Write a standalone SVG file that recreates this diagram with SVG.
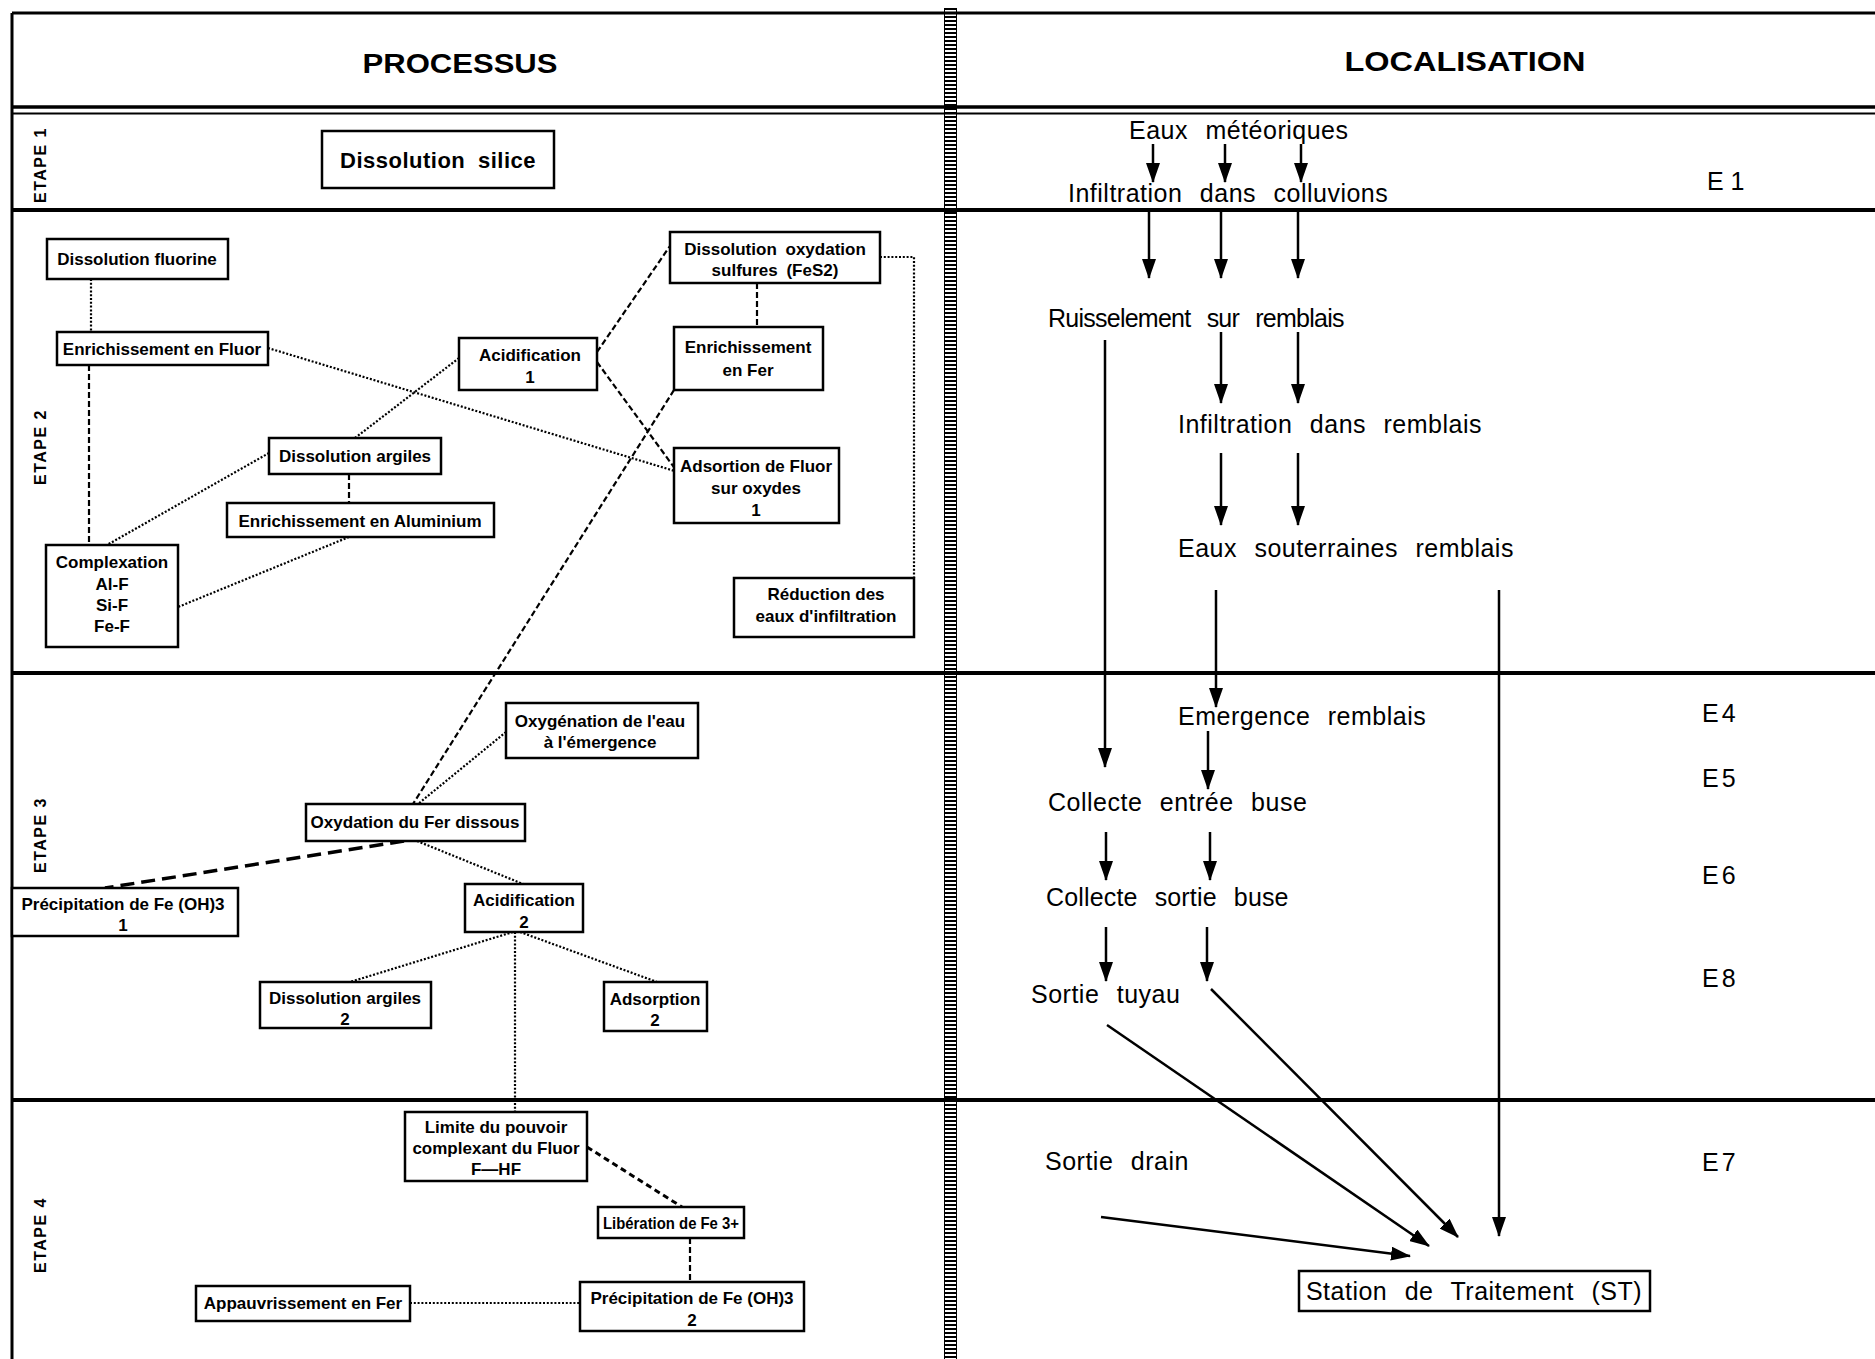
<svg xmlns="http://www.w3.org/2000/svg" width="1875" height="1359" viewBox="0 0 1875 1359">
<style>
.frame{stroke:#000;fill:none}
.box{fill:#fff;stroke:#000;stroke-width:2.5}
.bt{font-family:"Liberation Sans",Arial,sans-serif;font-weight:bold;font-size:17px;text-anchor:middle;fill:#000}
.hd{font-family:"Liberation Sans",Arial,sans-serif;font-weight:bold;font-size:27px;text-anchor:middle;fill:#000}
.et{font-family:"Liberation Sans",Arial,sans-serif;font-weight:bold;font-size:16px;letter-spacing:1.5px;text-anchor:middle;fill:#000}
.loc{font-family:"Liberation Sans",Arial,sans-serif;font-size:25px;letter-spacing:0.5px;word-spacing:10px;fill:#000}
.dot{stroke:#000;stroke-width:2.2;stroke-dasharray:2 1.8;fill:none}
.dsh{stroke:#000;stroke-width:2.2;stroke-dasharray:6 3;fill:none}
.hvy{stroke:#000;stroke-width:3.5;stroke-dasharray:14 7;fill:none}
.arr{stroke:#000;stroke-width:2.5;fill:none;marker-end:url(#ah)}
</style>
<defs>
<marker id="ah" markerUnits="userSpaceOnUse" markerWidth="20" markerHeight="14" refX="19" refY="7" orient="auto">
<path d="M0,0 L20,7 L0,14 z" fill="#000"/>
</marker>
</defs>
<rect width="1875" height="1359" fill="#fff"/>
<g id="frame">
<line class="frame" x1="12" y1="13" x2="1875" y2="13" stroke-width="3"/>
<line class="frame" x1="12" y1="13" x2="12" y2="1359" stroke-width="3"/>
<line class="frame" x1="12" y1="107" x2="1875" y2="107" stroke-width="3.5"/>
<line class="frame" x1="12" y1="113.5" x2="1875" y2="113.5" stroke-width="2"/>
<line class="frame" x1="12" y1="210" x2="1875" y2="210" stroke-width="4"/>
<line class="frame" x1="12" y1="673" x2="1875" y2="673" stroke-width="4"/>
<line class="frame" x1="12" y1="1100" x2="1875" y2="1100" stroke-width="4"/>
<line x1="950.5" y1="8" x2="950.5" y2="1359" stroke="#000" stroke-width="12" stroke-dasharray="2 2"/>
<line x1="944.5" y1="8" x2="944.5" y2="1359" stroke="#000" stroke-width="1"/>
<line x1="956.5" y1="8" x2="956.5" y2="1359" stroke="#000" stroke-width="1"/>
</g>
<g id="headers">
<text class="hd" x="460" y="73" textLength="195" lengthAdjust="spacingAndGlyphs">PROCESSUS</text>
<text class="hd" x="1465" y="71" textLength="241" lengthAdjust="spacingAndGlyphs">LOCALISATION</text>
<text class="et" transform="translate(46,165) rotate(-90)">ETAPE 1</text>
<text class="et" transform="translate(46,447) rotate(-90)">ETAPE 2</text>
<text class="et" transform="translate(46,835) rotate(-90)">ETAPE 3</text>
<text class="et" transform="translate(46,1235) rotate(-90)">ETAPE 4</text>
</g>
<g id="connectors">
<line class="dot" x1="91" y1="279" x2="91" y2="332"/>
<line class="dsh" x1="89" y1="365" x2="89" y2="545"/>
<line class="dot" x1="268" y1="348" x2="678" y2="472"/>
<line class="dot" x1="459" y1="358" x2="355" y2="438"/>
<line class="dsh" x1="597" y1="352" x2="670" y2="246"/>
<line class="dsh" x1="597" y1="362" x2="676" y2="470"/>
<line class="dot" x1="269" y1="453" x2="107" y2="545"/>
<line class="dsh" x1="349" y1="474" x2="349" y2="503"/>
<line class="dot" x1="349" y1="537" x2="178" y2="607"/>
<line class="dsh" x1="757" y1="283" x2="757" y2="327"/>
<polyline class="dot" points="880,257 914,257 914,578"/>
<line class="dsh" x1="674" y1="390" x2="413" y2="804"/>
<line class="dot" x1="506" y1="732" x2="418" y2="804"/>
<line class="hvy" x1="404" y1="841" x2="105" y2="888"/>
<line class="dot" x1="417" y1="841" x2="523" y2="884"/>
<line class="dot" x1="513" y1="932" x2="350" y2="982"/>
<line class="dot" x1="520" y1="932" x2="657" y2="982"/>
<line class="dot" x1="515" y1="932" x2="515" y2="1112"/>
<line class="hvy" style="stroke-dasharray:6 4;stroke-width:3" x1="587" y1="1147" x2="682" y2="1207"/>
<line class="dsh" x1="690" y1="1238" x2="690" y2="1282"/>
<line class="dot" x1="410" y1="1303" x2="580" y2="1303"/>
<line class="arr" x1="1153" y1="144" x2="1153" y2="182"/>
<line class="arr" x1="1225" y1="144" x2="1225" y2="182"/>
<line class="arr" x1="1301" y1="144" x2="1301" y2="182"/>
<line class="arr" x1="1149" y1="212" x2="1149" y2="278"/>
<line class="arr" x1="1221" y1="212" x2="1221" y2="278"/>
<line class="arr" x1="1298" y1="212" x2="1298" y2="278"/>
<line class="arr" x1="1105" y1="340" x2="1105" y2="767"/>
<line class="arr" x1="1221" y1="332" x2="1221" y2="403"/>
<line class="arr" x1="1298" y1="332" x2="1298" y2="403"/>
<line class="arr" x1="1221" y1="453" x2="1221" y2="525"/>
<line class="arr" x1="1298" y1="453" x2="1298" y2="525"/>
<line class="arr" x1="1216" y1="590" x2="1216" y2="707"/>
<line class="arr" x1="1499" y1="590" x2="1499" y2="1236"/>
<line class="arr" x1="1208" y1="731" x2="1208" y2="789"/>
<line class="arr" x1="1106" y1="832" x2="1106" y2="880"/>
<line class="arr" x1="1210" y1="832" x2="1210" y2="880"/>
<line class="arr" x1="1106" y1="927" x2="1106" y2="981"/>
<line class="arr" x1="1207" y1="927" x2="1207" y2="981"/>
<line class="arr" x1="1107" y1="1025" x2="1429" y2="1246"/>
<line class="arr" x1="1211" y1="989" x2="1458" y2="1237"/>
<line class="arr" x1="1101" y1="1217" x2="1410" y2="1256"/>
</g>
<g id="n-silice"><rect class="box" x="322" y="131" width="232" height="57"/><text class="bt" x="438" y="168" style="font-size:22px;letter-spacing:0.5px;word-spacing:6px">Dissolution silice</text></g>
<g id="n-fluorine"><rect class="box" x="47" y="239" width="181" height="40"/><text class="bt" x="137" y="265">Dissolution fluorine</text></g>
<g id="n-enrfluor"><rect class="box" x="57" y="332" width="211" height="33"/><text class="bt" x="162" y="355">Enrichissement en Fluor</text></g>
<g id="n-acid1"><rect class="box" x="459" y="338" width="138" height="52"/><text class="bt" x="530" y="361">Acidification</text><text class="bt" x="530" y="383">1</text></g>
<g id="n-dissox"><rect class="box" x="670" y="232" width="210" height="51"/><text class="bt" x="775" y="255" style="word-spacing:4px">Dissolution oxydation</text><text class="bt" x="775" y="276" style="word-spacing:4px">sulfures (FeS2)</text></g>
<g id="n-enrfer"><rect class="box" x="674" y="327" width="149" height="63"/><text class="bt" x="748" y="353">Enrichissement</text><text class="bt" x="748" y="376">en Fer</text></g>
<g id="n-adsfluor"><rect class="box" x="674" y="448" width="165" height="75"/><text class="bt" x="756" y="472">Adsortion de Fluor</text><text class="bt" x="756" y="494">sur oxydes</text><text class="bt" x="756" y="516">1</text></g>
<g id="n-dissarg"><rect class="box" x="269" y="438" width="172" height="36"/><text class="bt" x="355" y="462">Dissolution argiles</text></g>
<g id="n-enralu"><rect class="box" x="227" y="503" width="267" height="34"/><text class="bt" x="360" y="527">Enrichissement en Aluminium</text></g>
<g id="n-complex"><rect class="box" x="46" y="545" width="132" height="102"/><text class="bt" x="112" y="568">Complexation</text><text class="bt" x="112" y="590">Al-F</text><text class="bt" x="112" y="611">Si-F</text><text class="bt" x="112" y="632">Fe-F</text></g>
<g id="n-reduc"><rect class="box" x="734" y="578" width="180" height="59"/><text class="bt" x="826" y="600">Réduction des</text><text class="bt" x="826" y="622">eaux d'infiltration</text></g>
<g id="n-oxyg"><rect class="box" x="506" y="703" width="192" height="55"/><text class="bt" x="600" y="727">Oxygénation de l'eau</text><text class="bt" x="600" y="748">à l'émergence</text></g>
<g id="n-oxyfer"><rect class="box" x="306" y="804" width="219" height="37"/><text class="bt" x="415" y="828">Oxydation du Fer dissous</text></g>
<g id="n-precip1"><rect class="box" x="12" y="888" width="226" height="48"/><text class="bt" x="123" y="910">Précipitation de Fe (OH)3</text><text class="bt" x="123" y="931">1</text></g>
<g id="n-acid2"><rect class="box" x="465" y="884" width="118" height="48"/><text class="bt" x="524" y="906">Acidification</text><text class="bt" x="524" y="928">2</text></g>
<g id="n-dissarg2"><rect class="box" x="260" y="982" width="171" height="46"/><text class="bt" x="345" y="1004">Dissolution argiles</text><text class="bt" x="345" y="1025">2</text></g>
<g id="n-adsorp2"><rect class="box" x="604" y="982" width="103" height="49"/><text class="bt" x="655" y="1005">Adsorption</text><text class="bt" x="655" y="1026">2</text></g>
<g id="n-limite"><rect class="box" x="405" y="1112" width="182" height="69"/><text class="bt" x="496" y="1133">Limite du pouvoir</text><text class="bt" x="496" y="1154">complexant du Fluor</text><text class="bt" x="496" y="1175">F—HF</text></g>
<g id="n-liber"><rect class="box" x="598" y="1207" width="146" height="31"/><text class="bt" x="671" y="1229" textLength="136" lengthAdjust="spacingAndGlyphs">Libération de Fe 3+</text></g>
<g id="n-precip2"><rect class="box" x="580" y="1282" width="224" height="49"/><text class="bt" x="692" y="1304">Précipitation de Fe (OH)3</text><text class="bt" x="692" y="1326">2</text></g>
<g id="n-appauv"><rect class="box" x="196" y="1286" width="214" height="35"/><text class="bt" x="303" y="1309">Appauvrissement en Fer</text></g>
<g id="loc-labels">
<text class="loc" x="1129" y="139">Eaux météoriques</text>
<text class="loc" x="1068" y="202">Infiltration dans colluvions</text>
<text class="loc" x="1048" y="327" textLength="297">Ruisselement sur remblais</text>
<text class="loc" x="1178" y="433">Infiltration dans remblais</text>
<text class="loc" x="1178" y="557">Eaux souterraines remblais</text>
<text class="loc" x="1178" y="725">Emergence remblais</text>
<text class="loc" x="1048" y="811">Collecte entrée buse</text>
<text class="loc" x="1046" y="906" textLength="243">Collecte sortie buse</text>
<text class="loc" x="1031" y="1003">Sortie tuyau</text>
<text class="loc" x="1045" y="1170">Sortie drain</text>
<text class="loc" x="1707" y="190" style="letter-spacing:0;word-spacing:0">E 1</text>
<text class="loc" x="1702" y="722" style="letter-spacing:3px">E4</text>
<text class="loc" x="1702" y="787" style="letter-spacing:3px">E5</text>
<text class="loc" x="1702" y="884" style="letter-spacing:3px">E6</text>
<text class="loc" x="1702" y="987" style="letter-spacing:3px">E8</text>
<text class="loc" x="1702" y="1171" style="letter-spacing:3px">E7</text>
</g>
<g id="n-station"><rect class="box" x="1299" y="1271" width="351" height="40"/><text class="loc" x="1474" y="1300" text-anchor="middle">Station de Traitement (ST)</text></g>
</svg>
